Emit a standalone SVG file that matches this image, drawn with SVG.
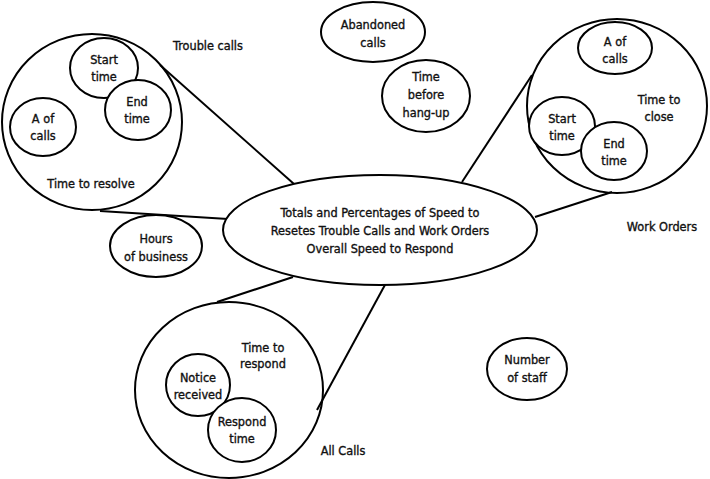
<svg xmlns="http://www.w3.org/2000/svg" width="710" height="479" viewBox="0 0 710 479">
<style>
.n{fill:#fff;stroke:#000;stroke-width:2}
.b{fill:none;stroke:#000;stroke-width:2}
.c line{stroke:#000;stroke-width:2}
text{font-family:"DejaVu Sans Condensed","Liberation Sans Narrow","Liberation Sans",sans-serif;font-size:12.6px;fill:#111;stroke:#111;stroke-width:0.35;text-anchor:middle}
</style>
<rect width="710" height="479" fill="#fff"/>
<g id="connectors" class="c">
<line x1="160" y1="65" x2="294" y2="184"/>
<line x1="100" y1="211" x2="228" y2="219"/>
<line x1="532" y1="75" x2="462" y2="182"/>
<line x1="612" y1="192" x2="535" y2="217"/>
<line x1="217" y1="302" x2="293" y2="277"/>
<line x1="317" y1="410" x2="386" y2="283"/>
</g>
<g id="trouble-calls">
<ellipse class="b" cx="92" cy="122" rx="90" ry="88"/>
<text x="208" y="50">Trouble calls</text>
<text x="91" y="188">Time to resolve</text>
</g>
<g id="tc-start-time">
<ellipse class="n" cx="104" cy="68" rx="34" ry="30"/>
<text x="104" y="64">Start</text><text x="104" y="81">time</text>
</g>
<g id="tc-end-time">
<ellipse class="n" cx="138" cy="110" rx="33" ry="30"/>
<text x="137" y="106">End</text><text x="137" y="123">time</text>
</g>
<g id="tc-a-of-calls">
<ellipse class="n" cx="43" cy="127" rx="33" ry="29"/>
<text x="43" y="123">A of</text><text x="43" y="140">calls</text>
</g>
<g id="center">
<ellipse class="n" cx="380" cy="230" rx="157" ry="55"/>
<text x="380" y="217">Totals and Percentages of Speed to</text>
<text x="380" y="235">Resetes Trouble Calls and Work Orders</text>
<text x="380" y="253">Overall Speed to Respond</text>
</g>
<g id="hours">
<ellipse class="n" cx="156" cy="246" rx="46" ry="31"/>
<text x="156" y="243">Hours</text><text x="156" y="261">of business</text>
</g>
<g id="abandoned">
<ellipse class="n" cx="373" cy="32" rx="52" ry="30"/>
<text x="373" y="29">Abandoned</text><text x="373" y="47">calls</text>
</g>
<g id="hangup">
<ellipse class="n" cx="426" cy="96" rx="44" ry="36"/>
<text x="426" y="81">Time</text><text x="426" y="99">before</text><text x="426" y="117">hang-up</text>
</g>
<g id="work-orders">
<ellipse class="b" cx="617" cy="106" rx="90" ry="87"/>
<text x="659" y="104">Time to</text><text x="659" y="121">close</text>
<text x="662" y="231">Work Orders</text>
</g>
<g id="wo-a-of-calls">
<ellipse class="n" cx="615" cy="48" rx="37" ry="26"/>
<text x="615" y="46">A of</text><text x="615" y="63">calls</text>
</g>
<g id="wo-start-time">
<ellipse class="n" cx="562" cy="126" rx="33" ry="29"/>
<text x="562" y="123">Start</text><text x="562" y="140">time</text>
</g>
<g id="wo-end-time">
<ellipse class="n" cx="614" cy="151" rx="33" ry="29"/>
<text x="614" y="148">End</text><text x="614" y="165">time</text>
</g>
<g id="all-calls">
<ellipse class="b" cx="229" cy="390" rx="94" ry="88"/>
<text x="263" y="352">Time to</text><text x="263" y="368">respond</text>
<text x="343" y="455">All Calls</text>
</g>
<g id="notice">
<ellipse class="n" cx="198" cy="385" rx="32" ry="31"/>
<text x="198" y="382">Notice</text><text x="198" y="399">received</text>
</g>
<g id="respond-time">
<ellipse class="n" cx="242" cy="430" rx="34" ry="32"/>
<text x="242" y="426">Respond</text><text x="242" y="443">time</text>
</g>
<g id="staff">
<ellipse class="n" cx="527" cy="369" rx="40" ry="31"/>
<text x="527" y="364">Number</text><text x="527" y="382">of staff</text>
</g>
</svg>
